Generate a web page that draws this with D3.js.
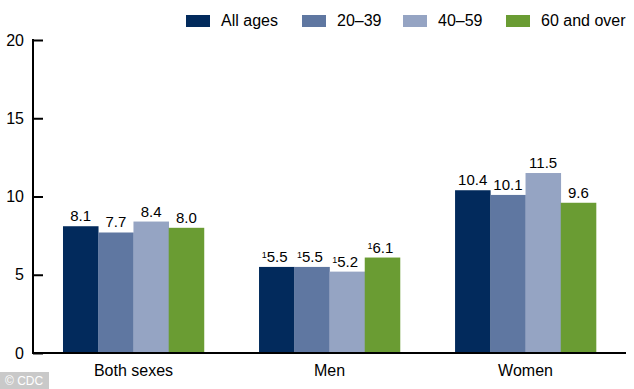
<!DOCTYPE html>
<html><head><meta charset="utf-8">
<script src="https://cdn.jsdelivr.net/npm/d3@7"></script>
<style>body{margin:0;background:#fff}svg{display:block;font-family:"Liberation Sans",Arial,sans-serif}</style>
</head><body><svg id="c" width="634" height="389"></svg>
<script>
const categories = ["Both sexes", "Men", "Women"];
const series = ["All ages", "20–39", "40–59", "60 and over"];
const colors = ["#022a5c", "#5f77a1", "#95a4c3", "#6a9c33"];
const values = [
  [8.1, 7.7, 8.4, 8.0],
  [5.5, 5.5, 5.2, 6.1],
  [10.4, 10.1, 11.5, 9.6]
];
const footnote = [
  [false, false, false, false],
  [true, true, true, true],
  [false, false, false, false]
];
const yTicks = [0, 5, 10, 15, 20];

const svg = d3.select("#c");
const x0 = 33, x1 = 626, yTop = 40, yBot = 353;
const y = d3.scaleLinear().domain([0, 20]).range([yBot, yTop]);
const xg = d3.scaleBand().domain(categories).range([x0, x1]).paddingInner(0.281).paddingOuter(0.153);
const xs = d3.scaleBand().domain(series).range([0, xg.bandwidth()]);

// bars
const g = svg.append("g");
categories.forEach((c, ci) => {
  series.forEach((s, si) => {
    const v = values[ci][si];
    const bx = xg(c) + xs(s);
    g.append("rect").attr("x", bx).attr("y", y(v)).attr("width", xs.bandwidth() + 0.3)
      .attr("height", y(0) - y(v)).attr("fill", colors[si]);
    const t = g.append("text").attr("x", bx + xs.bandwidth() / 2).attr("y", y(v) - 5)
      .attr("text-anchor", "middle").attr("font-size", 15).attr("fill", "#000");
    if (footnote[ci][si]) {
      t.attr("x", bx + xs.bandwidth() / 2 - 2);
      t.append("tspan").attr("font-size", 9).attr("dy", -4).text("1");
      t.append("tspan").attr("dy", 4).text(v.toFixed(1));
    } else {
      t.text(v.toFixed(1));
    }
  });
});

// y axis
const ya = svg.append("g").attr("transform", `translate(${x0},0)`)
  .call(d3.axisRight(y).tickValues(yTicks).tickSize(10).tickFormat(d3.format("d")));
ya.select(".domain").remove();
ya.selectAll(".tick line").attr("stroke", "#000").attr("stroke-width", 2);
ya.selectAll(".tick text").attr("x", -9).attr("text-anchor", "end").attr("font-size", 16)
  .attr("fill", "#000").attr("font-family", "Liberation Sans, Arial, sans-serif");
svg.append("line").attr("x1", x0).attr("x2", x0).attr("y1", yTop - 1).attr("y2", yBot + 1)
  .attr("stroke", "#000").attr("stroke-width", 2);

// x axis
const xa = svg.append("g").attr("transform", `translate(0,${yBot})`)
  .call(d3.axisBottom(xg).tickSize(0).tickPadding(12));
xa.select(".domain").remove();
xa.selectAll(".tick text").attr("font-size", 16).attr("fill", "#000")
  .attr("font-family", "Liberation Sans, Arial, sans-serif");
svg.append("line").attr("x1", x0 - 1).attr("x2", x1).attr("y1", yBot).attr("y2", yBot)
  .attr("stroke", "#000").attr("stroke-width", 2);

// legend
const legX = [186, 302, 403, 506];
const lg = svg.append("g");
series.forEach((s, i) => {
  lg.append("rect").attr("x", legX[i]).attr("y", 15).attr("width", 24).attr("height", 12).attr("fill", colors[i]);
  lg.append("text").attr("x", legX[i] + 35).attr("y", 26).attr("font-size", 16).attr("fill", "#000").text(s);
});

// watermark
svg.append("rect").attr("x", 0).attr("y", 372).attr("width", 49).attr("height", 17).attr("fill", "#c9c9c9");
svg.append("text").attr("x", 5).attr("y", 385).attr("font-size", 12).attr("fill", "#fff").text("© CDC");
</script></body></html>
